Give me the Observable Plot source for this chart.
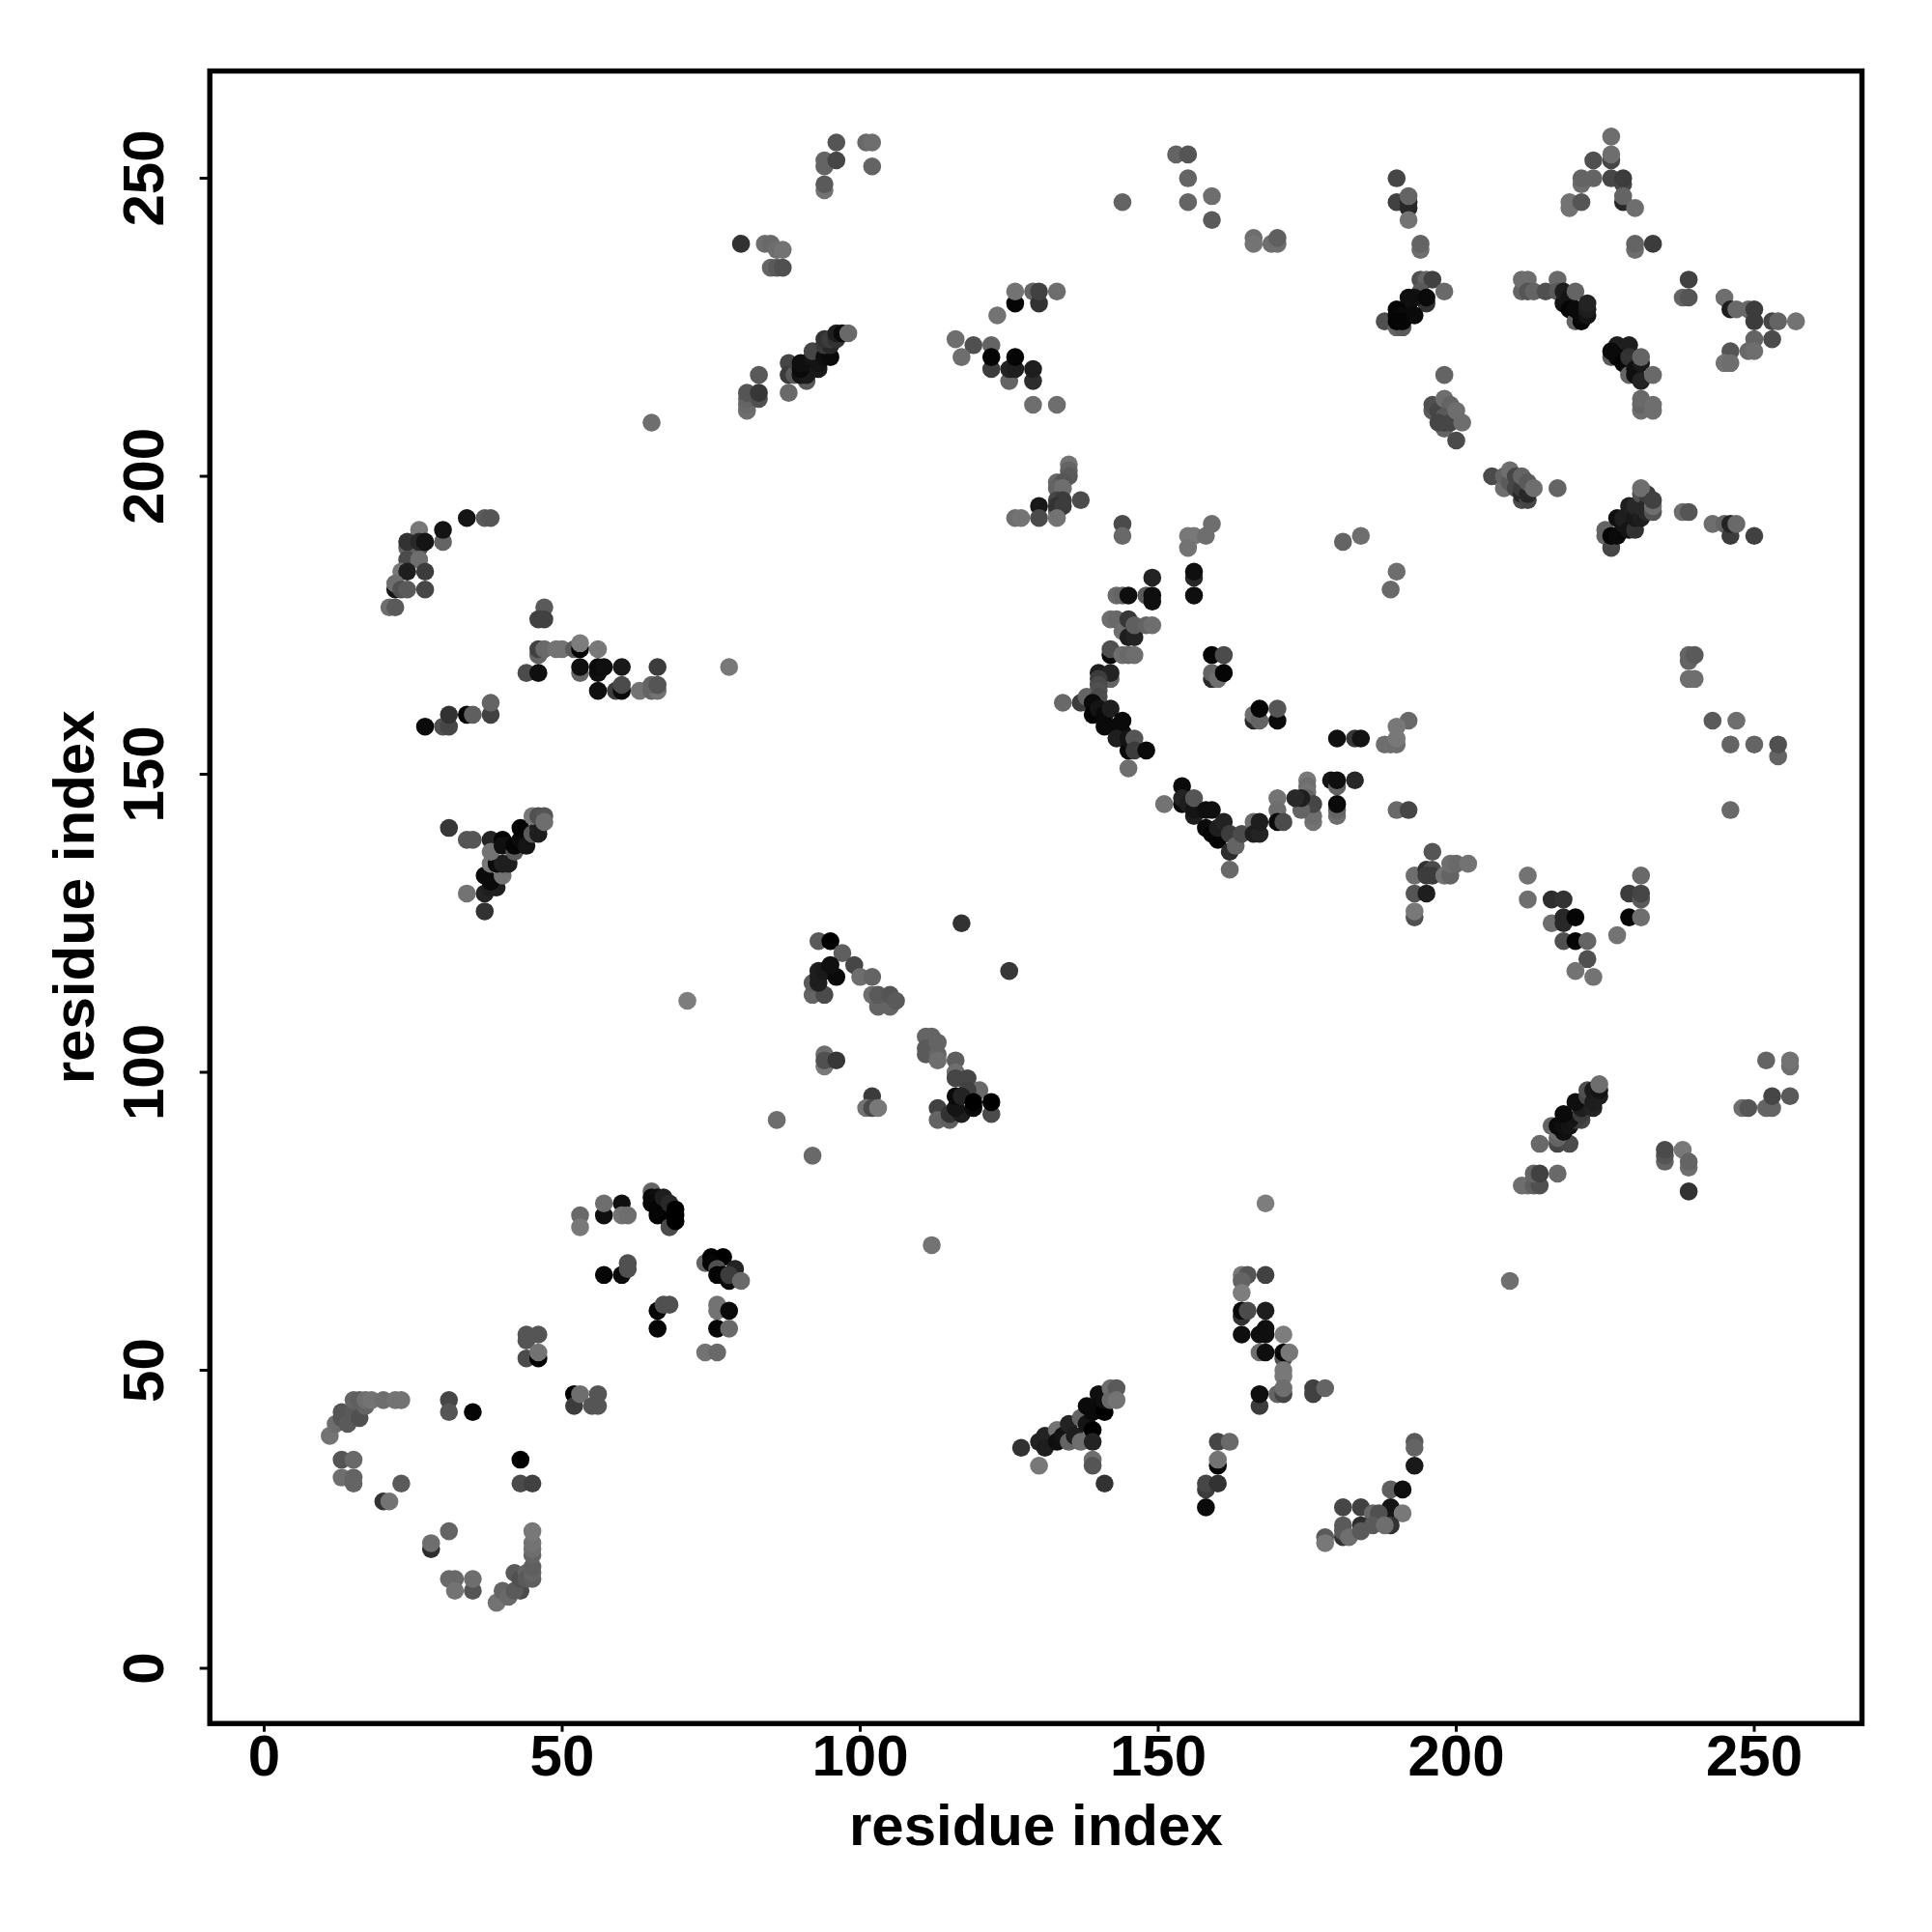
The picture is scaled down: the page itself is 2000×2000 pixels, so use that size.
<!DOCTYPE html>
<html><head><meta charset="utf-8">
<script src="https://cdn.jsdelivr.net/npm/d3@7"></script>
<script src="https://cdn.jsdelivr.net/npm/@observablehq/plot@0.6"></script>
<style>html,body{margin:0;padding:0;background:#fff}</style></head>
<body><div id="chart"></div>
<script>
// each contact: [residue i, residue j, grey level]
const lowerLeft = [[11,39,115],[12,41,110],[13,42,85],[13,43,85],[14,41,90],[15,43,90],[16,42,80],[17,44,100],[15,45,100],[16,45,95],[17,45,110],[18,45,115],[20,45,110],[22,45,115],[23,45,115],
[13,35,85],[15,35,105],[13,32,110],[15,32,100],[15,31,100],[20,28,50],[21,28,115],[23,31,90],[28,20,45],[28,21,110],[31,23,100],[31,15,105],[32,15,105],[32,13,115],[35,13,85],[35,15,110],
[39,11,115],[40,13,100],[41,12,105],[43,13,75],[42,13,90],[42,16,90],[43,15,80],[44,16,100],[44,15,90],[45,15,95],[45,16,100],[45,17,95],[45,19,100],[45,20,110],[45,21,115],[45,23,120],
[43,35,0],[43,31,75],[45,31,65],[31,45,70],[31,43,85],[35,43,5]];
const lowerMid = [[44,56,85],[46,56,85],[44,55,85],[44,52,75],[46,52,0],[46,53,115],[52,46,0],[52,44,60],[53,46,110],[56,46,85],[55,44,85],[56,44,85],
[53,76,105],[53,74,120],[57,76,15],[57,78,110],[60,78,15],[60,76,115],[61,76,110],[57,66,5],[60,66,10],[61,68,80],[61,67,80],[66,60,5],[66,57,5],[67,61,80],[68,61,80],[76,61,115],[76,60,115],[78,60,10],[76,57,5],[78,57,105],[74,53,115],[76,53,105],
[65,80,100],[65,79,10],[66,79,15],[65,78,10],[66,77,5],[66,76,5],[67,79,30],[67,76,5],[68,78,40],[68,75,0],[68,74,75],[69,77,0],[69,76,0],[69,75,0],
[74,68,100],[75,69,0],[77,69,0],[75,68,5],[76,67,80],[76,66,5],[77,66,5],[79,67,35],[78,65,10],[78,66,60],[80,65,105]];
const lowerRight = [[112,71,115],[168,78,125],[127,37,50],[130,34,120],[130,38,35],[131,39,35],[131,37,30],[133,40,115],[133,38,15],[134,39,20],[135,41,35],[135,38,100],[136,39,30],[137,42,100],[137,38,110],[138,44,10],[138,41,20],[139,43,10],[139,40,0],[139,38,35],[140,46,15],[140,44,10],[141,43,0],[141,45,15],[142,47,110],[142,45,105],[143,47,90],[143,45,115],[139,35,110],[139,34,85],[141,31,50],
[164,66,120],[165,66,85],[168,66,65],[164,65,100],[164,63,125],[164,59,50],[164,60,10],[165,60,75],[168,60,30],[164,56,15],[167,56,15],[168,57,15],[168,56,15],[171,56,125],[167,53,110],[168,53,15],[171,52,80],[171,53,5],[172,53,120],[171,50,120],[171,49,120],[170,46,100],[171,46,70],[171,47,110],[167,44,60],[167,46,15],[176,47,65],[176,46,65],[178,47,100],
[160,38,70],[162,38,105],[160,34,5],[160,35,115],[158,30,60],[158,31,70],[160,31,50],[158,27,10],[193,38,90],[193,37,100],[193,34,25],[189,30,95],[191,30,15],[189,27,20],[189,26,20],[191,26,120],
[181,27,70],[184,27,65],[186,26,105],[187,26,80],[181,22,50],[184,24,45],[181,24,90],[181,23,90],[182,22,110],[184,23,90],[186,24,90],[189,24,50],[188,24,110],[178,22,90],[178,21,120]];
const midLeft = [[31,141,55],[34,139,85],[35,139,85],[38,139,35],[40,139,5],[37,127,50],[34,130,115],[37,133,10],[37,130,35],[38,131,30],[39,131,30],[38,132,10],[40,133,115],[38,135,120],[39,135,10],[40,135,30],[41,135,30],[38,137,115],[40,138,15],[41,138,15],[42,137,90],[42,138,5],[43,139,10],[44,138,20],[43,141,5],[45,140,90],[46,140,30],[46,141,30],[45,143,120],[46,143,80],[47,143,85],[47,142,110],
[34,193,20],[37,193,90],[38,193,85],[26,191,120],[30,189,100],[30,191,20],[26,188,80],[24,188,100],[24,189,50],[26,189,40],[27,189,20],[24,186,75],[26,186,110],[23,184,120],[24,184,30],[27,184,60],[22,181,20],[22,182,110],[23,181,80],[24,181,90],[27,181,70],[21,178,110],[22,178,90],
[47,178,90],[46,176,65],[47,176,65],[46,170,100],[46,171,65],[47,171,105],[49,171,115],[50,171,115],[52,171,90],[53,171,5],[53,172,125],[56,171,120],[44,167,75],[46,167,15],[53,167,100],[53,168,15],[56,167,15],[56,168,10],[57,168,15],[60,168,25],[66,168,60],[78,168,120],[56,164,15],[59,164,60],[60,164,10],[60,165,75],[63,164,115],[65,164,100],[66,164,115],[65,165,100],[66,165,85],
[27,158,10],[30,158,80],[31,158,70],[31,160,50],[34,160,5],[35,160,95],[38,160,65],[38,162,100]];
const midCentre = [[71,112,125],[117,125,50],[125,117,55],[93,122,90],[95,122,0],[97,120,95],[92,113,100],[94,113,75],[92,115,90],[93,115,30],[93,116,30],[93,117,30],[94,117,25],[96,116,10],[95,118,15],[99,118,70],[100,116,110],[102,116,100],
[102,113,110],[103,111,100],[105,111,100],[103,113,90],[105,113,85],[106,112,90],[94,101,120],[94,103,110],[94,102,80],[96,102,55],[102,96,60],[101,94,115],[102,94,75],[103,94,120],[86,92,110],[92,86,105],
[111,106,100],[112,106,100],[111,104,90],[111,103,90],[113,105,100],[113,103,100],[113,102,110],[116,102,95],[116,100,110],[116,99,70],[118,99,70],[120,97,105],[118,97,65],[113,94,65],[113,92,100],[115,92,95],[115,93,50],[117,93,30],[116,94,20],[119,94,10],[116,96,10],[117,96,35],[119,95,0],[122,93,75],[122,95,0]];
const midRight = [[175,149,120],[175,148,110],[175,147,115],[175,146,100],[179,149,20],[180,148,100],[180,149,15],[183,149,40],[180,143,110],[180,144,100],[180,145,10],[176,142,115],[176,143,110],[176,145,70],[174,144,100],[174,146,30],[173,146,40],[170,146,115],[170,144,110],[170,142,10],[171,142,75],[190,144,105],[192,144,70],[246,144,105],[254,153,100],
[196,137,85],[193,133,110],[195,134,50],[196,134,75],[195,133,60],[196,133,60],[198,133,115],[199,133,100],[199,135,110],[200,135,105],[202,135,115],[193,130,85],[195,130,30],[193,126,80],[193,127,120],
[212,133,115],[212,129,110],[216,129,45],[218,129,50],[216,125,110],[218,126,40],[218,125,40],[220,126,5],[218,122,80],[220,122,5],[222,122,100],[222,119,80],[220,117,115],[223,116,115],[227,123,115],[229,126,5],[231,126,110],[229,130,60],[231,129,90],[231,130,70],[231,133,105],
[252,102,100],[256,101,110],[256,102,115],[253,94,100],[252,94,100],[253,96,70],[256,96,90],[248,94,110],[249,94,85],[235,85,100],[235,86,85],[235,87,75],[238,87,120],[239,84,110],[239,85,100],[239,80,50],
[217,88,70],[219,88,75],[214,88,105],[217,89,100],[216,91,100],[217,90,110],[218,90,15],[217,91,10],[218,91,15],[219,91,20],[221,92,70],[220,92,60],[219,92,20],[218,93,10],[221,93,60],[221,94,30],[220,95,15],[223,94,35],[222,96,70],[222,97,80],[223,95,30],[223,97,25],[224,96,30],[224,97,20],[224,98,110],
[211,81,110],[212,81,110],[213,81,95],[214,81,80],[213,83,100],[214,83,65],[217,83,105],[209,65,110]];
const farRight = [[239,169,100],[239,170,100],[240,170,90],[239,166,110],[240,166,110],[243,159,90],[247,159,110],[246,155,100],[250,155,100],[254,155,80]];
const upperCurve = [[144,192,75],[144,190,105],[155,190,120],[156,190,120],[158,190,110],[159,192,110],[155,188,115],[181,189,100],[184,190,110],[190,184,110],[189,181,105],[149,183,35],[156,183,40],[156,184,15],[156,180,15],[143,180,105],[144,180,100],[145,180,15],[148,180,90],[149,179,15],[149,180,15],
[142,176,110],[143,176,105],[145,174,90],[144,174,110],[145,173,30],[146,173,35],[145,176,55],[146,175,95],[148,175,100],[149,175,110],[142,170,10],[142,171,80],[144,170,110],[145,170,105],[146,170,110],[159,170,5],[161,170,75],[159,166,40],[159,167,100],[160,166,110],[161,167,5],[166,159,40],[166,160,110],[167,159,100],[167,161,5],[170,159,10],[170,161,85],
[140,167,30],[142,166,100],[142,167,35],[140,166,60],[140,165,75],[140,164,80],[134,162,105],[137,162,60],[138,163,100],[140,163,75],[139,162,10],[139,160,5],[140,161,20],[141,160,10],[142,161,30],[141,158,10],[143,158,10],[144,159,10],[144,157,10],[143,156,30],[145,154,10],[145,156,20],[146,156,85],[146,154,60],[148,154,10],[145,151,110],
[154,148,10],[151,145,115],[154,145,10],[154,146,35],[155,145,30],[156,143,30],[156,144,20],[156,146,85],[158,141,10],[158,144,15],[159,144,15],[159,140,5],[160,139,5],[160,141,30],[161,142,35],[162,137,45],[162,140,60],[163,138,100],[164,140,75],[162,134,105],[166,142,110],[166,140,30],[167,140,35],[167,142,30],
[180,156,15],[183,156,55],[184,156,20],[192,159,105],[190,158,120],[188,155,110],[189,155,110],[190,155,110],[190,156,120]];
const upperMid = [[153,254,100],[155,254,85],[155,250,100],[155,246,100],[159,247,110],[159,243,90],[144,246,100],[166,240,110],[166,239,115],[169,239,110],[170,239,110],[170,240,95],
[135,202,115],[135,201,100],[135,200,90],[133,199,105],[134,199,85],[133,198,100],[134,198,110],[133,196,70],[134,196,60],[137,196,75],[133,194,100],[133,195,50],[134,195,60],[130,195,25],[126,193,110],[127,193,115],[130,193,75],[133,193,115],
[65,209,110],[96,256,85],[101,256,105],[102,256,110],[94,252,100],[94,253,100],[96,253,70],[102,252,100],[94,248,115],[94,249,90],[80,239,50],[84,239,110],[85,239,105],[86,238,110],[87,238,115],[85,235,100],[86,235,90],[87,235,80],
[83,217,90],[81,211,110],[81,212,105],[81,213,100],[83,213,80],[81,214,85],[83,214,55],[88,214,105],[88,219,70],[88,217,60],[91,216,90],[89,217,90],
[90,217,20],[91,217,25],[90,218,10],[90,219,15],[91,219,15],[92,220,20],[93,218,25],[93,219,20],[92,221,70],[94,220,15],[95,220,10],[94,222,60],[95,222,40],[94,223,50],[95,223,60],[96,223,50],[96,224,30],[97,224,10],[98,224,105],
[116,223,110],[119,222,80],[122,222,100],[123,227,115],[117,220,110],[122,218,60],[122,220,5],[125,216,100],[125,218,35],[126,218,30],[126,220,5],[129,216,45],[129,218,30],[129,212,110],[133,212,110],[126,229,5],[126,231,115],[129,231,100],[130,229,50],[130,231,65],[133,231,110]];
const upperRight = [[190,250,70],[190,246,65],[192,245,40],[192,246,40],[192,247,100],[192,243,115],[194,238,110],[194,239,100],
[194,233,80],[195,233,100],[196,233,65],[198,231,105],[194,231,90],[195,229,50],[193,230,20],[192,230,15],[195,230,10],[188,226,80],[190,225,100],[191,225,90],[192,228,15],[190,228,5],[190,227,5],[191,227,10],[190,226,5],[191,226,5],[193,227,10],
[198,217,100],[196,211,90],[196,212,80],[197,211,70],[198,213,110],[199,212,100],[198,208,100],[198,209,60],[198,210,90],[197,209,70],[200,206,75],[199,209,70],[200,211,110],[201,209,110],
[226,253,70],[226,254,110],[226,257,110],[223,253,80],[221,249,110],[221,250,100],[223,250,100],[226,250,70],[228,249,70],[228,250,60],[219,245,115],[219,246,115],[221,246,85],[228,246,40],[228,247,100],[230,245,110],[230,238,110],[230,239,100],[233,239,60],
[211,231,100],[211,233,110],[212,233,110],[212,231,85],[213,231,100],[215,231,80],[217,233,105],[217,231,90],[218,229,20],[218,231,30],[219,230,20],[219,228,5],[220,226,100],[220,228,10],[221,226,5],[221,227,10],[220,231,100],[222,227,20],[222,228,30],[222,229,35],
[239,233,65],[238,230,100],[239,230,85],[245,230,110],[246,228,30],[247,228,105],[249,228,105],[250,228,60],[250,226,60],[253,226,70],[254,226,100],[257,226,115],[250,223,100],[253,223,75],[249,221,105],[250,221,110],[246,221,85],[245,219,115],[246,219,110],
[226,220,90],[227,222,30],[229,222,30],[226,221,10],[227,220,10],[228,219,5],[229,218,10],[229,219,10],[229,220,50],[229,217,100],[230,217,15],[230,218,15],[231,216,35],[231,219,25],[231,220,100],[233,217,105],[231,211,110],[231,212,100],[231,213,105],[233,211,110],[233,212,110],
[206,200,75],[208,198,110],[208,200,100],[209,199,90],[209,201,110],[210,198,70],[210,200,70],[211,196,75],[211,197,40],[211,198,60],[211,200,100],[212,196,70],[212,197,40],[212,199,90],[213,198,110],[217,198,100],
[225,190,100],[225,191,100],[226,188,70],[226,190,5],[227,190,10],[227,193,15],[228,191,10],[228,192,20],[228,193,30],[229,191,20],[229,195,30],[230,191,50],[230,193,25],[230,195,40],[231,193,30],[231,195,40],[231,197,80],[232,194,40],[232,195,40],[232,197,60],[231,198,110],[233,194,85],[233,195,110],[233,196,65],
[238,194,110],[239,194,85],[243,192,110],[245,192,100],[246,190,60],[246,192,35],[247,192,105],[250,190,65]];

const contacts = [...lowerLeft, ...lowerMid, ...lowerRight, ...midLeft, ...midCentre, ...midRight, ...farRight, ...upperCurve, ...upperMid, ...upperRight];
const tickValues = [0, 50, 100, 150, 200, 250];
const axisTitle = "residue index";

const chart = Plot.plot({
  width: 2000, height: 2000,
  marginLeft: 216.7, marginRight: 73, marginTop: 73, marginBottom: 216.3,
  style: {fontFamily: "'Liberation Sans', Arial, sans-serif", background: "#fff", color: "#000"},
  x: {domain: [-9.12, 268.07]},
  y: {domain: [-9.27, 268]},
  color: {type: "linear", domain: [0, 125], range: ["#000000", "#7d7d7d"], legend: false},
  marks: [
    Plot.dot(contacts, {x: d => d[0], y: d => d[1], r: 9.3, fill: d => d[2], stroke: "none"}),
    Plot.frame({stroke: "#000", strokeWidth: 5.4}),
    Plot.axisX({anchor: "bottom", ticks: tickValues, tickSize: 9, tickPadding: 2, strokeWidth: 3, stroke: "#000", fontSize: 60, fontWeight: "bold", tickFormat: d => String(d), label: axisTitle, labelAnchor: "center", labelArrow: "none", labelOffset: 126}),
    Plot.axisY({anchor: "left", ticks: tickValues, tickSize: 10, tickPadding: 38, strokeWidth: 3, stroke: "#000", fontSize: 60, fontWeight: "bold", tickRotate: -90, textAnchor: "middle", tickFormat: d => String(d), label: axisTitle, labelAnchor: "center", labelArrow: "none", labelOffset: 163})
  ]
});
document.getElementById("chart").appendChild(chart);
</script>
</body></html>
